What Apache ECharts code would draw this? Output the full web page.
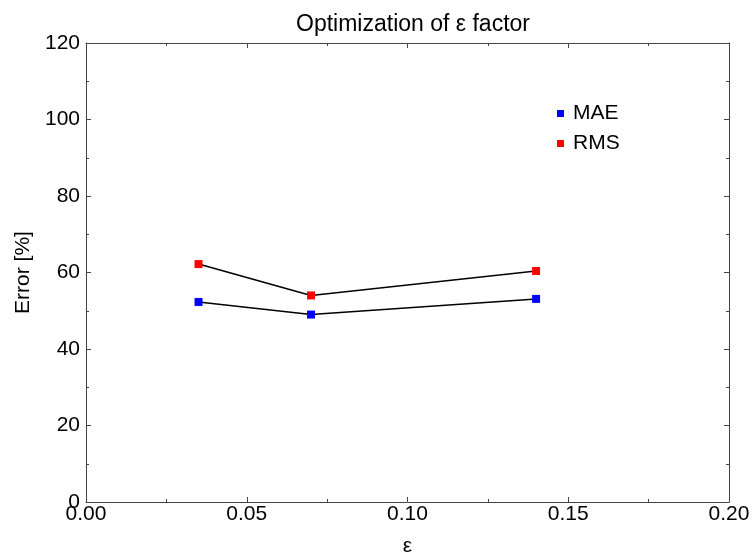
<!DOCTYPE html>
<html>
<head>
<meta charset="utf-8">
<script src="https://cdn.jsdelivr.net/npm/echarts@6/dist/echarts.min.js"></script>
<style>
html,body{margin:0;padding:0;background:#fff;}
#chart{width:752px;height:554px;}
</style>
</head>
<body>
<div id="chart"></div>
<script>
// data
var epsValues = [0.035, 0.07, 0.14];
var maeValues = [52.3, 49.0, 53.1];
var rmsValues = [62.2, 54.0, 60.4];
var xTicks = [0, 0.05, 0.10, 0.15, 0.20];
var yTicks = [0, 20, 40, 60, 80, 100, 120];

function pairs(xs, ys){
  return xs.map(function(x, i){ return [x, ys[i]]; });
}

var font = 'Liberation Sans, Arial, Helvetica, sans-serif';
var axisColor = '#444';

// shared look for all four frame axes, ticks point inward
function frameAxis(extra){
  var base = {
    type: 'value',
    axisLine: { show: true, onZero: false, lineStyle: { color: axisColor, width: 1 } },
    axisTick: { show: true, inside: true, length: 5, lineStyle: { color: axisColor } },
    minorTick: { show: true, splitNumber: 2, length: 3, lineStyle: { color: axisColor } },
    splitLine: { show: false },
    axisLabel: { show: false }
  };
  for (var k in extra) base[k] = extra[k];
  return base;
}

var chart = echarts.init(document.getElementById('chart'));
chart.setOption({
  backgroundColor: '#fff',
  animation: false,
  title: {
    text: 'Optimization of ε factor',
    left: 408,
    textAlign: 'center',
    top: 8,
    textStyle: { fontFamily: font, fontSize: 23, fontWeight: 'normal', color: '#000' }
  },
  legend: {
    orient: 'vertical',
    left: 552,
    top: 98,
    icon: 'rect',
    itemWidth: 7,
    itemHeight: 7,
    itemGap: 9,
    textStyle: { fontFamily: font, fontSize: 21, color: '#000', padding: [0, 0, 0, 4] },
    data: ['MAE', 'RMS']
  },
  grid: { left: 86, right: 23, top: 43, bottom: 52, outerBoundsMode: 'none', containLabel: false },
  xAxis: [
    frameAxis({
      min: 0, max: 0.2, interval: 0.05,
      name: 'ε', nameLocation: 'middle', nameGap: 34,
      nameTextStyle: { fontFamily: font, fontSize: 21, color: '#000' },
      axisLabel: {
        show: true, margin: 2, fontFamily: font, fontSize: 21, color: '#000',
        formatter: function(v){ return v.toFixed(2); }
      }
    }),
    frameAxis({ min: 0, max: 0.2, interval: 0.05, position: 'top' })
  ],
  yAxis: [
    frameAxis({
      min: 0, max: 120, interval: 20,
      name: 'Error [%]', nameLocation: 'middle', nameGap: 52,
      nameTextStyle: { fontFamily: font, fontSize: 21, color: '#000' },
      axisLabel: { show: true, margin: 6, fontFamily: font, fontSize: 21, color: '#000' }
    }),
    frameAxis({ min: 0, max: 120, interval: 20, position: 'right' })
  ],
  series: [
    {
      name: 'MAE',
      type: 'line',
      data: pairs(epsValues, maeValues),
      symbol: 'rect',
      symbolSize: 8,
      itemStyle: { color: '#0000ff' },
      lineStyle: { color: '#000', width: 1.5 }
    },
    {
      name: 'RMS',
      type: 'line',
      data: pairs(epsValues, rmsValues),
      symbol: 'rect',
      symbolSize: 8,
      itemStyle: { color: '#ff0000' },
      lineStyle: { color: '#000', width: 1.5 }
    }
  ]
});
</script>
</body>
</html>
